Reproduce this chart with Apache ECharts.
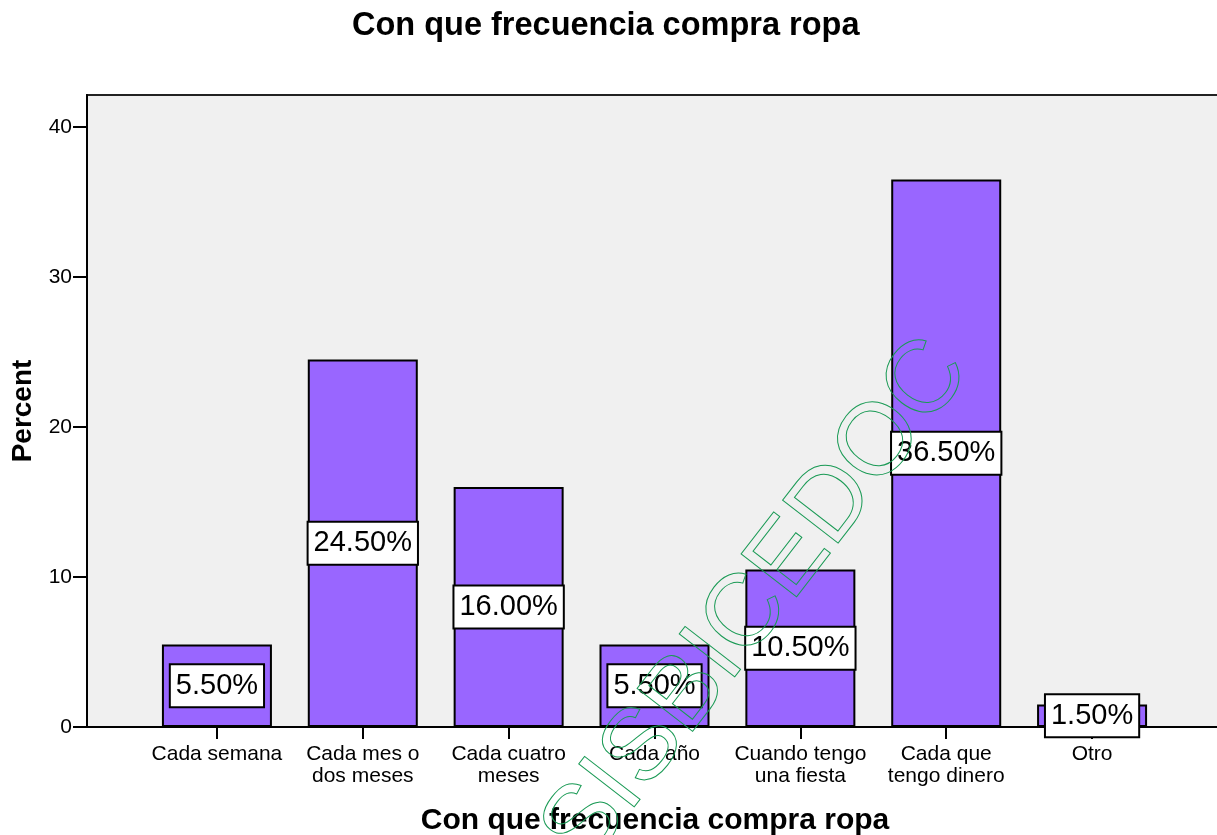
<!DOCTYPE html>
<html>
<head>
<meta charset="utf-8">
<script src="https://cdn.jsdelivr.net/npm/echarts@6/dist/echarts.min.js"></script>
<style>
  html, body {margin: 0; padding: 0; background: #fff;}
  #chart {width: 1217px; height: 835px;}
</style>
</head>
<body>
<div id="chart"></div>
<script>
// datos
let categories = ['Cada semana', 'Cada mes o\ndos meses', 'Cada cuatro\nmeses', 'Cada año',
  'Cuando tengo\nuna fiesta', 'Cada que\ntengo dinero', 'Otro'];
let percents = [5.5, 24.5, 16.0, 5.5, 10.5, 36.5, 1.5];
let yTicks = [0, 10, 20, 30, 40];

let font = 'Liberation Sans, Arial, sans-serif';
let yMax = 42.13;

let chart = echarts.init(document.getElementById('chart'));
chart.setOption({
  backgroundColor: '#fff',
  animation: false,
  title: {
    text: 'Con que frecuencia compra ropa', left: 347, top: 5,
    textStyle: {fontSize: 32.5, fontWeight: 'bold', color: '#000', fontFamily: font}
  },
  grid: [
    {
      left: 87, right: -6, top: 95, bottom: 108, show: true, containLabel: false, outerBoundsMode: 'none',
      backgroundColor: '#f0f0f0', borderColor: '#222', borderWidth: 2
    },
    {left: 144, right: 52, top: 95, bottom: 108, containLabel: false, outerBoundsMode: 'none'}
  ],
  xAxis: [
    {
      type: 'value', gridIndex: 0, min: 0, max: 1,
      axisLine: {show: true, lineStyle: {color: '#000', width: 2}},
      axisTick: {show: false}, axisLabel: {show: false}, splitLine: {show: false},
      name: 'Con que frecuencia compra ropa', nameLocation: 'middle', nameGap: 79,
      nameTextStyle: {fontSize: 30, fontWeight: 'bold', color: '#000', fontFamily: font}
    },
    {
      type: 'category', gridIndex: 1, data: categories,
      axisLine: {show: false},
      axisTick: {show: true, alignWithLabel: true, length: 12, lineStyle: {color: '#000', width: 2}},
      axisLabel: {fontSize: 21, lineHeight: 22, color: '#000', fontFamily: font, margin: 16, interval: 0}
    }
  ],
  yAxis: [
    {
      type: 'value', gridIndex: 0, min: 0, max: yMax,
      axisLine: {show: true, lineStyle: {color: '#000', width: 2}},
      axisTick: {show: true, length: 14, customValues: yTicks, lineStyle: {color: '#000', width: 2}},
      axisLabel: {fontSize: 21, color: '#000', fontFamily: font, margin: 15, customValues: yTicks},
      splitLine: {show: false},
      name: 'Percent', nameLocation: 'middle', nameGap: 50, nameRotate: 90,
      nameTextStyle: {fontSize: 28, fontWeight: 'bold', color: '#000', fontFamily: font}
    },
    {type: 'value', gridIndex: 1, min: 0, max: yMax, show: false}
  ],
  series: [
    {
      type: 'bar', xAxisIndex: 1, yAxisIndex: 1, data: percents, barWidth: 110,
      itemStyle: {color: '#9966ff', borderColor: '#000', borderWidth: 2},
      label: {
        show: true, position: 'inside',
        formatter: function (p) { return p.value.toFixed(2) + '%'; },
        fontSize: 29, lineHeight: 29, color: '#000', fontFamily: font,
        backgroundColor: '#fff', borderColor: '#000', borderWidth: 2, padding: [6, 5]
      }
    }
  ],
  graphic: [
    {
      // marca de agua
      type: 'text', x: 757, y: 602, rotation: 52.3 * Math.PI / 180, z: 100,
      style: {
        text: 'SISBICEDOC', font: '102px Liberation Sans', fill: 'none',
        stroke: '#1a9a55', lineWidth: 1, align: 'center', verticalAlign: 'middle',
        textAlign: 'center', textVerticalAlign: 'middle'
      }
    }
  ]
});
</script>
</body>
</html>
